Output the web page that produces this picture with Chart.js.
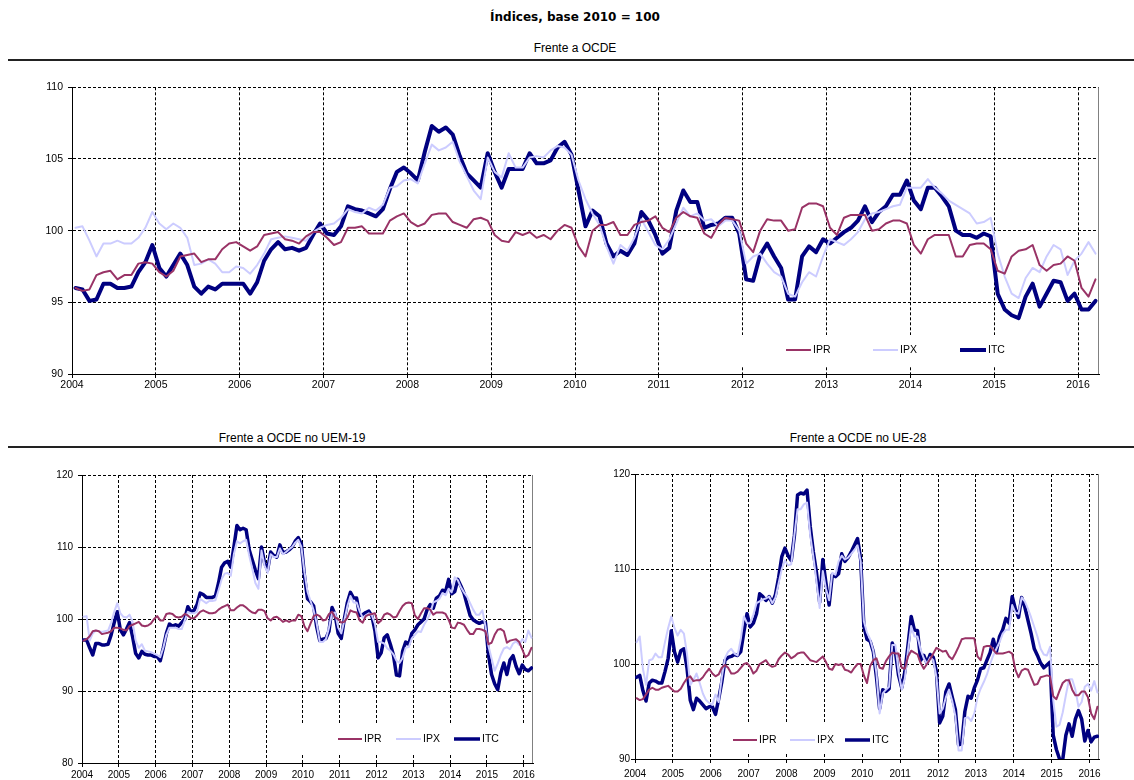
<!DOCTYPE html>
<html>
<head>
<meta charset="utf-8">
<script src="https://cdn.jsdelivr.net/npm/chart.js@4.4.0/dist/chart.umd.min.js"></script>
<style>
  body { margin: 0; background: #fff; width: 1134px; height: 780px; position: relative; overflow: hidden;
         font-family: "Liberation Sans", Arial, sans-serif; }
  .titulo { position: absolute; white-space: nowrap; transform: translateX(-50%); line-height: 14px; color: #000; }
  .regua { position: absolute; left: 8px; right: 0; height: 2px; background: #222; }
  canvas { position: absolute; }
</style>
</head>
<body>
<div class="titulo" style="left:575px;top:10px;font:bold 12px 'DejaVu Sans',sans-serif;">Índices, base 2010 = 100</div>
<div class="titulo" style="left:575px;top:41px;font-size:12px;">Frente a OCDE</div>
<div class="regua" style="top:59px;"></div>
<div class="titulo" style="left:292px;top:431px;font-size:12px;">Frente a OCDE no UEM-19</div>
<div class="titulo" style="left:858px;top:431px;font-size:12px;">Frente a OCDE no UE-28</div>
<div class="regua" style="top:446px;"></div>

<canvas id="gOcde"></canvas>
<canvas id="gUem"></canvas>
<canvas id="gUe"></canvas>

<script>
// meses: jan 2004 .. mar 2016 (posicionados a meio do mes)
const meses = Array.from({ length: 147 }, (_, i) => 2004 + (i + 0.5) / 12);
const anos = [2004, 2005, 2006, 2007, 2008, 2009, 2010, 2011, 2012, 2013, 2014, 2015, 2016];
const nomes = ['IPR', 'IPX', 'ITC'];
const cores = ['#993366', '#ccccff', '#000080'];

// Frente a OCDE
const ocdeIPR = [
  96.0, 95.8, 95.9, 96.9, 97.1, 97.2, 96.6, 96.9, 96.9, 97.7,
  97.8, 97.7, 97.1, 96.8, 97.2, 98.2, 98.3, 98.4, 97.8, 98.0,
  98.0, 98.7, 99.1, 99.2, 98.9, 98.6, 98.9, 99.7, 99.8, 99.9,
  99.4, 99.3, 99.1, 99.6, 99.9, 99.9, 99.5, 99.0, 99.2, 100.2,
  100.2, 100.3, 99.8, 99.8, 99.8, 100.7, 101.0, 101.2, 100.6, 100.3,
  100.5, 101.1, 101.2, 101.2, 100.6, 100.4, 100.2, 100.8, 100.9, 100.7,
  99.7, 99.3, 99.2, 99.9, 99.7, 99.9, 99.5, 99.7, 99.4, 100.0,
  100.4, 100.2, 98.9, 98.2, 100.0, 100.4, 100.4, 100.6, 99.7, 99.7,
  100.4, 100.6, 100.7, 101.0, 100.2, 99.9, 100.9, 101.3, 101.0, 100.9,
  99.8, 99.5, 100.4, 100.9, 100.8, 100.7, 99.1, 98.5, 100.0, 100.8,
  100.7, 100.7, 100.0, 100.1, 101.6, 101.9, 101.9, 101.7, 100.2, 99.7,
  100.9, 101.1, 101.1, 101.1, 100.0, 100.1, 100.5, 100.7, 100.7, 100.5,
  99.0, 98.4, 99.4, 99.7, 99.7, 99.7, 98.2, 98.2, 99.0, 99.1,
  99.1, 98.7, 97.2, 97.0, 98.2, 98.6, 98.7, 99.0, 97.6, 97.2,
  97.6, 97.7, 98.2, 97.9, 96.0, 95.4, 96.6
];
const ocdeIPX = [
  100.2, 100.3, 99.3, 98.2, 99.1, 99.1, 99.3, 99.1, 99.1, 99.5,
  100.2, 101.3, 100.5, 100.1, 100.5, 100.2, 99.5, 97.6, 97.7, 98.0,
  97.7, 97.1, 97.1, 97.5, 97.4, 97.0, 97.6, 98.4, 99.4, 99.5,
  99.6, 99.5, 99.4, 99.3, 99.9, 100.2, 100.4, 100.5, 100.9, 101.5,
  101.3, 101.2, 101.6, 101.4, 101.8, 103.0, 103.1, 103.5, 103.6, 103.3,
  104.7, 106.0, 105.6, 105.8, 106.2, 104.8, 103.8, 102.8, 102.2, 105.1,
  104.1, 103.7, 105.4, 104.4, 104.4, 105.1, 105.2, 105.1, 105.6, 105.9,
  105.8, 105.3, 103.5, 102.2, 101.2, 100.4, 98.9, 97.7, 99.0, 98.6,
  99.5, 100.8, 99.9, 99.0, 98.7, 99.4, 100.5, 101.6, 101.0, 101.2,
  100.7, 100.8, 100.3, 100.7, 100.7, 100.0, 97.7, 98.2, 98.4, 97.7,
  97.1, 96.8, 95.6, 95.4, 96.4, 97.1, 96.8, 98.2, 99.4, 99.2,
  99.0, 99.4, 99.9, 100.8, 101.2, 101.3, 101.5, 101.7, 101.8, 103.0,
  103.0, 103.0, 103.6, 103.0, 102.6, 102.1, 101.8, 101.5, 101.2, 100.5,
  100.6, 100.9, 98.4, 96.8, 95.6, 95.3, 96.7, 97.4, 97.1, 98.2,
  99.0, 98.7, 96.9, 97.9, 98.4, 99.2, 98.4
];
const ocdeITC = [
  96.0, 95.9, 95.1, 95.2, 96.3, 96.3, 96.0, 96.0, 96.1, 97.1,
  97.8, 99.0, 97.4, 96.8, 97.6, 98.4, 97.6, 96.1, 95.6, 96.1,
  95.9, 96.3, 96.3, 96.3, 96.3, 95.6, 96.4, 97.9, 98.7, 99.2,
  98.7, 98.8, 98.6, 98.8, 99.7, 100.5, 99.8, 99.7, 100.3, 101.7,
  101.5, 101.4, 101.2, 101.0, 101.5, 102.9, 104.1, 104.4, 104.0, 103.5,
  105.5, 107.3, 106.9, 107.2, 106.7, 105.2, 104.0, 103.5, 103.0, 105.4,
  104.1, 103.0, 104.3, 104.3, 104.3, 105.4, 104.7, 104.7, 104.9, 105.8,
  106.2, 105.3, 102.8, 100.3, 101.4, 101.0, 99.1, 98.2, 98.6, 98.3,
  99.1, 101.3, 100.7, 99.7, 98.4, 98.8, 101.4, 102.8, 102.0, 102.0,
  100.2, 100.4, 100.5, 100.9, 100.9, 99.8, 96.6, 96.5, 98.3, 99.1,
  98.2, 97.4, 95.2, 95.2, 98.2, 98.9, 98.5, 99.4, 99.1, 99.5,
  99.9, 100.2, 100.7, 101.7, 100.6, 101.3, 101.7, 102.5, 102.5, 103.5,
  102.1, 101.5, 103.0, 103.0, 102.4, 101.7, 100.0, 99.7, 99.7, 99.5,
  99.8, 99.6, 95.6, 94.5, 94.1, 93.9, 95.4, 96.3, 94.7, 95.6,
  96.5, 96.4, 95.1, 95.6, 94.5, 94.5, 95.1
];

// Frente a OCDE no UEM-19
const uemIPR = [
  97.0, 97.2, 97.6, 98.3, 98.4, 98.3, 97.9, 98.0, 98.1, 98.3,
  98.8, 98.8, 98.7, 98.5, 98.4, 99.0, 99.2, 99.4, 99.6, 99.1,
  99.0, 99.1, 99.4, 100.0, 100.4, 99.8, 99.8, 100.7, 100.8, 100.7,
  100.3, 100.2, 100.3, 100.7, 100.5, 100.1, 100.1, 100.5, 101.0, 101.2,
  101.0, 100.8, 100.8, 100.9, 101.3, 101.6, 101.8, 102.0, 101.2, 101.2,
  101.6, 101.9, 101.9, 101.6, 101.2, 100.9, 100.8, 101.3, 101.3, 101.1,
  100.1, 99.8, 100.2, 100.3, 100.0, 99.6, 99.8, 99.6, 99.8, 99.8,
  100.6, 100.4, 99.0, 98.3, 99.4, 100.4, 100.6, 100.4, 99.8, 99.9,
  100.7, 101.0, 100.2, 100.0, 99.5, 99.6, 100.2, 101.2, 101.0, 100.9,
  99.8, 99.5, 100.4, 100.6, 100.7, 100.8, 99.4, 99.8, 100.6, 100.8,
  100.6, 100.2, 100.3, 101.1, 101.8, 102.2, 102.3, 102.2, 100.5, 100.0,
  100.8, 101.5, 101.5, 101.3, 100.6, 100.9, 100.9, 100.9, 100.7, 99.9,
  98.8, 98.7, 99.5, 99.4, 99.2, 98.5, 97.9, 97.9, 98.6, 98.6,
  98.5, 98.3, 96.5, 96.7, 97.8, 98.5, 98.6, 98.3, 96.7, 97.0,
  97.1, 97.2, 96.8, 95.8, 94.7, 95.0, 96.0
];
const uemIPX = [
  100.3, 100.4, 97.0, 98.0, 98.4, 98.3, 98.2, 98.3, 98.4, 99.5,
  101.0, 102.2, 100.8, 100.3, 100.2, 100.6, 99.6, 97.0, 96.0, 96.5,
  95.6, 95.5, 95.4, 95.2, 95.0, 94.7, 96.0, 97.8, 98.8, 98.8,
  98.8, 98.6, 98.6, 99.8, 101.0, 100.8, 100.8, 101.0, 102.8, 102.5,
  102.2, 102.5, 102.5, 102.6, 104.0, 105.5, 106.3, 106.4, 106.0, 109.0,
  110.8, 110.5, 110.8, 111.0, 108.8, 107.0, 105.0, 104.2, 109.5, 107.4,
  106.4, 109.0, 108.6, 108.6, 109.8, 109.0, 109.3, 109.7, 110.0, 110.6,
  111.0, 110.0, 106.5, 103.8, 102.5, 101.2, 99.4, 96.8, 96.8, 97.2,
  98.8, 100.8, 100.9, 98.8, 98.0, 99.8, 101.8, 103.2, 102.3, 102.3,
  101.1, 100.2, 100.5, 100.8, 100.5, 99.3, 96.8, 96.8, 96.6, 95.9,
  95.6, 95.1, 94.2, 93.9, 94.6, 96.0, 96.1, 97.3, 97.8, 98.3,
  98.2, 99.2, 99.9, 100.8, 102.3, 102.5, 102.8, 103.6, 103.3, 104.2,
  103.7, 105.8, 105.4, 104.4, 103.7, 103.1, 102.2, 101.3, 100.6, 100.6,
  101.2, 99.0, 96.2, 94.5, 92.8, 93.8, 95.0, 95.9, 96.1, 95.8,
  96.6, 96.9, 96.4, 97.2, 96.8, 98.4, 97.4
];
const uemITC = [
  97.1, 97.1, 96.0, 95.0, 96.6, 96.6, 96.4, 96.4, 96.5, 97.8,
  99.5, 101.0, 98.5, 97.8, 98.6, 99.5, 97.5, 95.2, 94.6, 95.5,
  95.1, 95.0, 95.0, 94.8, 94.8, 94.2, 96.0, 98.0, 99.3, 99.0,
  99.2, 99.0, 99.5, 100.0, 101.7, 101.0, 101.2, 102.0, 103.6, 103.4,
  103.0, 103.0, 103.0, 103.2, 105.0, 107.2, 107.8, 108.0, 107.2, 110.0,
  113.0, 112.4, 112.6, 112.4, 109.6, 108.2, 106.8, 105.6, 110.0, 107.8,
  106.8, 109.3, 108.8, 108.6, 110.3, 109.2, 109.3, 109.6, 110.0, 110.8,
  111.3, 110.4, 106.0, 102.8, 102.4, 101.8, 98.9, 97.0, 97.2, 97.3,
  98.3, 101.6, 100.6, 98.0, 97.3, 100.0, 102.3, 103.7, 102.9, 102.9,
  100.5, 100.6, 100.9, 101.1, 100.4, 98.3, 94.6, 95.3, 97.4, 97.8,
  96.5, 95.0, 92.2, 92.1, 95.5, 96.8, 96.5, 98.0, 98.5, 99.2,
  99.6, 100.0, 101.3, 102.0, 101.5, 102.9, 103.2, 104.0, 103.8, 105.5,
  103.5, 103.8, 105.5, 104.6, 103.6, 102.0, 100.5, 99.9, 99.6, 99.4,
  99.6, 99.5, 95.0, 92.3, 91.0, 90.2, 92.5, 93.9, 92.3, 94.3,
  94.9, 93.4, 92.4, 93.6, 93.0, 92.8, 93.2
];

// Frente a OCDE no UE-28
const ueIPR = [
  96.4, 96.2, 96.3, 96.8, 97.3, 97.5, 97.3, 97.3, 97.5, 97.6,
  97.7, 97.4, 97.1, 97.1, 97.4, 98.0, 98.5, 98.7, 98.2, 98.3,
  98.3, 98.6, 99.1, 99.5, 99.0, 98.7, 98.9, 99.6, 99.9, 99.6,
  99.0, 99.0, 99.2, 99.6, 100.0, 100.1, 99.7, 99.0, 99.3, 100.0,
  100.2, 100.4, 99.9, 99.7, 99.8, 100.5, 100.9, 101.2, 101.0, 100.6,
  100.8, 101.1, 101.2, 101.2, 100.8, 100.4, 100.3, 100.2, 100.5, 100.8,
  100.2, 99.5, 99.4, 100.0, 99.9, 100.0, 99.4, 99.3, 99.1, 99.6,
  100.0, 100.0, 98.8, 98.0, 99.8, 100.4, 100.6, 99.6, 99.5, 100.3,
  100.8, 101.2, 101.1, 101.1, 99.6, 99.5, 100.8, 101.4, 101.2, 101.0,
  100.1, 99.5, 100.0, 100.5, 101.1, 101.7, 101.5, 101.3, 101.4, 100.8,
  100.5, 101.1, 101.8, 102.6, 102.7, 102.7, 102.7, 102.7, 100.8, 100.4,
  101.8, 101.9, 101.9, 101.5, 101.1, 101.1, 101.1, 101.2, 101.3, 101.1,
  99.4, 98.6, 99.3, 99.5, 99.4, 98.6, 97.8, 97.9, 98.6, 98.7,
  98.8, 98.7, 96.6, 96.3, 97.2, 98.0, 98.3, 98.3, 97.3, 96.7,
  96.7, 97.1, 97.1, 96.5, 94.8, 94.2, 95.5
];
const ueIPX = [
  102.3, 102.9, 99.5, 97.8, 100.4, 100.5, 101.1, 100.7, 100.7, 102.3,
  103.8, 105.0, 103.8, 103.0, 103.6, 103.2, 101.0, 97.8, 98.3, 99.0,
  98.0, 96.9, 96.2, 95.9, 95.7, 96.8, 96.0, 98.6, 100.6, 101.3,
  101.6, 101.1, 100.9, 102.6, 105.0, 104.3, 104.3, 105.2, 106.4, 106.6,
  106.8, 106.9, 107.1, 106.4, 107.0, 108.5, 110.0, 110.9, 110.4, 110.5,
  113.6, 116.3, 116.3, 116.8, 117.0, 113.6, 111.3, 108.7, 105.9, 109.8,
  107.9, 106.7, 109.6, 109.4, 110.8, 111.4, 111.0, 111.2, 111.6, 112.0,
  112.5, 110.8, 104.5, 103.3, 102.6, 101.4, 99.0, 94.8, 96.9, 97.3,
  97.6, 102.0, 102.0, 99.2, 97.3, 98.5, 101.5, 104.0, 102.9, 102.9,
  101.5, 100.6, 100.0, 100.7, 100.4, 98.6, 94.8, 95.3, 96.5, 97.3,
  96.1, 94.5, 90.9, 90.9, 94.3, 94.4, 94.0, 94.8, 96.5, 97.4,
  98.1, 98.9, 100.0, 100.9, 101.6, 102.3, 103.2, 103.6, 103.6, 106.2,
  105.4, 105.3, 107.0, 106.6, 105.8, 104.9, 103.9, 102.9, 101.6, 101.0,
  100.9, 101.8, 96.2, 93.4, 93.6, 94.9, 96.7, 98.4, 98.4, 97.3,
  95.5, 96.0, 97.6, 97.9, 97.2, 98.2, 97.0
];
const ueITC = [
  98.6, 98.8, 97.2, 96.1, 98.0, 98.3, 98.2, 98.0, 98.0, 99.2,
  100.6, 103.5, 101.3, 100.2, 101.4, 101.6, 99.5, 96.2, 95.2, 96.4,
  96.1, 95.7, 95.3, 95.5, 95.5, 94.7, 96.3, 98.1, 100.4, 100.7,
  100.8, 101.0, 100.9, 101.3, 103.4, 105.3, 103.9, 104.3, 105.3, 107.4,
  107.1, 106.7, 107.1, 106.4, 107.3, 109.1, 111.3, 112.2, 111.4, 110.9,
  113.5, 117.8, 118.0, 117.9, 118.3, 114.5, 111.8, 109.6, 106.5, 111.0,
  108.5, 106.2, 109.4, 109.2, 109.5, 111.6, 110.8, 111.2, 111.8, 112.5,
  113.2, 111.0, 104.0, 102.6, 102.4, 101.3, 98.6, 95.3, 97.3, 97.1,
  97.4, 102.2, 101.3, 98.8, 97.5, 99.2, 102.0, 105.0, 103.6, 103.5,
  100.4, 100.9, 100.1, 101.0, 100.7, 99.2, 93.8, 94.5, 97.1, 97.9,
  96.5, 95.2, 91.5, 91.6, 95.0, 96.6, 96.4, 97.5, 98.3, 99.5,
  99.6, 100.4, 101.2, 102.6, 101.3, 102.9, 103.6, 104.8, 104.3, 107.1,
  105.8, 104.9, 107.0, 106.0, 104.6, 103.2, 101.6, 100.9, 100.1, 99.6,
  99.9, 100.2, 92.5, 91.0, 90.0, 89.9, 92.5, 93.7, 92.4, 94.2,
  95.1, 94.2, 91.9, 93.0, 91.8, 92.3, 92.4
];

Chart.defaults.font.family = '"Liberation Sans", Arial, sans-serif';
Chart.defaults.color = '#000';

// borda direita cinzenta + legenda dentro da area do grafico
const decoracao = {
  id: 'decoracao',
  beforeDatasetsDraw(chart, args, o) {
    const { ctx, chartArea } = chart;
    ctx.save();
    ctx.strokeStyle = '#808080';
    ctx.lineWidth = 1;
    ctx.beginPath();
    ctx.moveTo(chartArea.right - 0.5, chartArea.top);
    ctx.lineTo(chartArea.right - 0.5, chartArea.bottom);
    ctx.stroke();

    const [x0, y0, x1, y1] = o.caixa;
    ctx.fillStyle = '#fff';
    ctx.fillRect(x0 - o.ox, y0 - o.oy, x1 - x0, y1 - y0);

    ctx.font = o.fonte;
    ctx.textBaseline = 'middle';
    const y = o.y - o.oy;
    chart.data.datasets.forEach((ds, k) => {
      const [a, b, t] = o.itens[k];
      ctx.strokeStyle = ds.borderColor;
      ctx.lineWidth = ds.borderWidth;
      ctx.beginPath();
      ctx.moveTo(a - o.ox, y);
      ctx.lineTo(b - o.ox, y);
      ctx.stroke();
      ctx.fillStyle = '#000';
      ctx.fillText(ds.label, t - o.ox, y + 0.5);
    });
    ctx.restore();
  }
};

function criarGrafico(id, area, yTicks, series, est) {
  const cv = document.getElementById(id);
  const ox = area.l - 50, oy = area.t - 10;
  const W = area.r - area.l + 65, H = area.b - area.t + 40;
  cv.width = W; cv.height = H;
  cv.style.left = ox + 'px'; cv.style.top = oy + 'px';
  cv.style.width = W + 'px'; cv.style.height = H + 'px';

  const fonteEixo = { size: est.fonte };
  return new Chart(cv, {
    type: 'line',
    data: {
      datasets: series.map((v, k) => ({
        label: nomes[k],
        data: v.map((y, i) => ({ x: meses[i], y: y })),
        borderColor: cores[k],
        borderWidth: est.larguras[k],
        pointRadius: 0,
        tension: 0,
        fill: false,
        borderJoinStyle: 'round',
        borderCapStyle: 'round'
      }))
    },
    options: {
      responsive: false,
      animation: false,
      events: [],
      layout: { padding: { left: 0, top: 10, right: 15, bottom: 0 } },
      scales: {
        x: {
          type: 'linear',
          min: 2004,
          max: 2016.25,
          afterBuildTicks: s => { s.ticks = anos.map(v => ({ value: v })); },
          afterFit: s => { s.height = 30; },
          grid: { color: '#000', tickColor: '#000', tickLength: 4, lineWidth: 1 },
          border: { color: '#000', width: 1, dash: [3, 2] },
          ticks: {
            font: fonteEixo, color: '#000', padding: est.padX,
            maxRotation: 0, autoSkip: false,
            callback: v => String(v)
          }
        },
        y: {
          min: yTicks[0],
          max: yTicks[yTicks.length - 1],
          afterBuildTicks: s => { s.ticks = yTicks.map(v => ({ value: v })); },
          afterFit: s => { s.width = 50; },
          grid: { color: '#000', tickColor: '#000', tickLength: 4, lineWidth: 1 },
          border: { color: '#000', width: 1, dash: [3, 2] },
          ticks: { font: fonteEixo, color: '#000', padding: est.padY }
        }
      },
      plugins: {
        legend: { display: false },
        tooltip: { enabled: false },
        decoracao: Object.assign({ ox: ox, oy: oy, fonte: '10.5px "Liberation Sans", Arial, sans-serif' }, est.legenda)
      }
    },
    plugins: [decoracao]
  });
}

criarGrafico('gOcde', { l: 72, t: 86, r: 1099, b: 374 }, [90, 95, 100, 105, 110],
  [ocdeIPR, ocdeIPX, ocdeITC],
  { fonte: 10.5, larguras: [2, 2, 4], padX: 1, padY: 5,
    legenda: { caixa: [738, 335, 1025, 367], y: 350, itens: [[786, 811, 813], [873, 898, 900], [960, 986, 988]] } });

criarGrafico('gUem', { l: 82, t: 474, r: 533, b: 763 }, [80, 90, 100, 110, 120],
  [uemIPR, uemIPX, uemITC],
  { fonte: 10, larguras: [2, 2, 3.5], padX: 2, padY: 5,
    legenda: { caixa: [298, 723, 530, 755], y: 739, itens: [[338, 362, 364], [396, 421, 423], [454, 480, 482]] } });

criarGrafico('gUe', { l: 635, t: 474, r: 1099, b: 759 }, [90, 100, 110, 120],
  [ueIPR, ueIPX, ueITC],
  { fonte: 10, larguras: [2, 2, 3.5], padX: 5, padY: 1,
    legenda: { caixa: [725, 723, 895, 754], y: 740, itens: [[733, 757, 759], [790, 815, 817], [845, 870, 872]] } });
</script>
</body>
</html>
